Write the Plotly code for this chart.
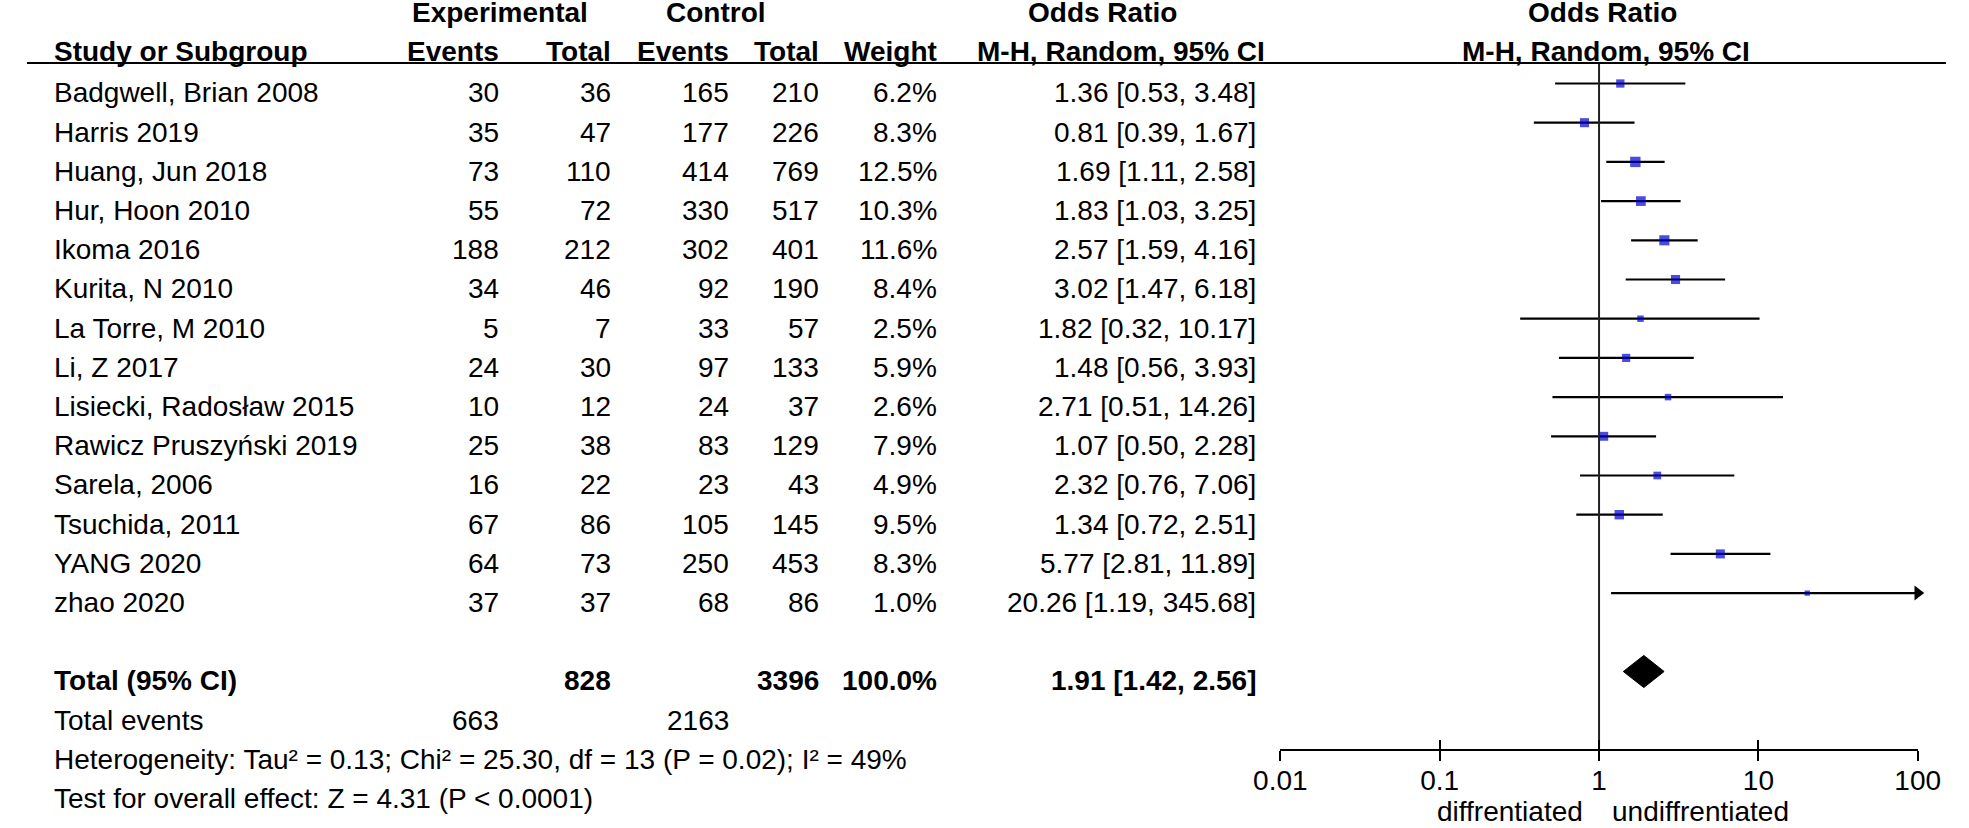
import numpy as np
import plotly.graph_objects as go

# Study rows
studies = ["Badgwell, Brian 2008", "Harris 2019", "Huang, Jun 2018", "Hur, Hoon 2010",
           "Ikoma 2016", "Kurita, N 2010", "La Torre, M 2010", "Li, Z 2017",
           "Lisiecki, Radosław 2015", "Rawicz Pruszyński 2019", "Sarela, 2006",
           "Tsuchida, 2011", "YANG 2020", "zhao 2020"]
exp_events = [30, 35, 73, 55, 188, 34, 5, 24, 10, 25, 16, 67, 64, 37]
exp_total = [36, 47, 110, 72, 212, 46, 7, 30, 12, 38, 22, 86, 73, 37]
ctl_events = [165, 177, 414, 330, 302, 92, 33, 97, 24, 83, 23, 105, 250, 68]
ctl_total = [210, 226, 769, 517, 401, 190, 57, 133, 37, 129, 43, 145, 453, 86]
weights = [6.2, 8.3, 12.5, 10.3, 11.6, 8.4, 2.5, 5.9, 2.6, 7.9, 4.9, 9.5, 8.3, 1.0]
odds_ratio = [1.36, 0.81, 1.69, 1.83, 2.57, 3.02, 1.82, 1.48, 2.71, 1.07, 2.32, 1.34, 5.77, 20.26]
ci_low = [0.53, 0.39, 1.11, 1.03, 1.59, 1.47, 0.32, 0.56, 0.51, 0.50, 0.76, 0.72, 2.81, 1.19]
ci_high = [3.48, 1.67, 2.58, 3.25, 4.16, 6.18, 10.17, 3.93, 14.26, 2.28, 7.06, 2.51, 11.89, 345.68]

# Pooled result
total_exp = 828
total_ctl = 3396
total_weight = 100.0
total_or = 1.91
total_low = 1.42
total_high = 2.56
total_events_exp = 663
total_events_ctl = 2163
heterogeneity = "Heterogeneity: Tau² = 0.13; Chi² = 25.30, df = 13 (P = 0.02); I² = 49%"
overall_effect = "Test for overall effect: Z = 4.31 (P < 0.0001)"

tick_vals = [0.01, 0.1, 1, 10, 100]
tick_text = ["0.01", "0.1", "1", "10", "100"]
left_label = "diffrentiated"
right_label = "undiffrentiated"

# ---- layout helpers (pixels of the 1969x828 page) ----
W, H = 1969, 828
ROW0, ROWH = 83.5, 39.2          # y pixel of first plotted row, row pitch
TXT = 0.24                        # text sits a bit below the plotted line
FONT = "Liberation Sans, Arial, sans-serif"
FS = 28


def px(x):
    return x / W


n = len(studies)
rows = list(range(n))
total_row = n + 1
events_row = n + 2
het_row = n + 3
test_row = n + 4
head_row = -1.05
group_row = -2.05
line_row = -0.523
axis_row = het_row

dom = [px(1286), px(1940)]
xr = [np.log10(tick_vals[0]), np.log10(tick_vals[-1])]
xmax = tick_vals[-1]

fig = go.Figure()

# confidence intervals (clipped at the axis end)
cx, cy = [], []
for i in rows:
    cx += [ci_low[i], min(ci_high[i], xmax), None]
    cy += [i, i, None]
fig.add_trace(go.Scatter(x=cx, y=cy, mode="lines", line=dict(color="black", width=2.2),
                         hoverinfo="skip"))

# arrows for intervals beyond the axis
arr = [i for i in rows if ci_high[i] > xmax]
fig.add_trace(go.Scatter(x=[xmax] * len(arr), y=arr, mode="markers", cliponaxis=False,
                         marker=dict(symbol="triangle-right", size=13, color="black"),
                         hoverinfo="skip"))

# point estimates, square area ~ weight
fig.add_trace(go.Scatter(x=odds_ratio, y=rows, mode="markers",
                         marker=dict(symbol="square", color="#0000cc",
                                     size=[3.3 + 2 * np.sqrt(w) for w in weights],
                                     line=dict(width=0)),
                         hoverinfo="skip"))

# pooled diamond
dh = 0.41
fig.add_trace(go.Scatter(x=[total_low, total_or, total_high, total_or, total_low],
                         y=[total_row, total_row - dh, total_row, total_row + dh, total_row],
                         mode="lines", fill="toself", fillcolor="black",
                         line=dict(color="black", width=1), hoverinfo="skip"))

# line of no effect
fig.add_trace(go.Scatter(x=[1, 1], y=[line_row, axis_row], mode="lines", xaxis="x2",
                         line=dict(color="#222", width=2), hoverinfo="skip"))

ann = []


def text(x, y, s, anchor="left", bold=False, size=FS):
    ann.append(dict(x=x, y=y, xref="paper", yref="y", text=f"<b>{s}</b>" if bold else s,
                    showarrow=False, xanchor=anchor, yanchor="middle",
                    font=dict(family=FONT, size=size, color="black")))


# column right edges
c_study, c_ee, c_et, c_ce, c_ct, c_w, c_or = px(26), px(486), px(601), px(722), px(815), px(936), px(1263)

# headers
text(px(485), group_row + TXT, "Experimental", "center", True)
text(px(707), group_row + TXT, "Control", "center", True)
text(px(1104), group_row + TXT, "Odds Ratio", "center", True)
text(px(1617), group_row + TXT, "Odds Ratio", "center", True)
text(c_study, head_row + TXT, "Study or Subgroup", "left", True)
text(c_ee, head_row + TXT, "Events", "right", True)
text(c_et, head_row + TXT, "Total", "right", True)
text(c_ce, head_row + TXT, "Events", "right", True)
text(c_ct, head_row + TXT, "Total", "right", True)
text(c_w, head_row + TXT, "Weight", "right", True)
text(px(1272), head_row + TXT, "M-H, Random, 95% CI", "right", True)
text(px(1620), head_row + TXT, "M-H, Random, 95% CI", "center", True)

for i in rows:
    y = i + TXT
    text(c_study, y, studies[i])
    text(c_ee, y, str(exp_events[i]), "right")
    text(c_et, y, str(exp_total[i]), "right")
    text(c_ce, y, str(ctl_events[i]), "right")
    text(c_ct, y, str(ctl_total[i]), "right")
    text(c_w, y, f"{weights[i]:.1f}%", "right")
    text(c_or, y, f"{odds_ratio[i]:.2f} [{ci_low[i]:.2f}, {ci_high[i]:.2f}]", "right")

y = total_row + TXT
text(c_study, y, "Total (95% CI)", "left", True)
text(c_et, y, str(total_exp), "right", True)
text(c_ct, y, str(total_ctl), "right", True)
text(c_w, y, f"{total_weight:.1f}%", "right", True)
text(c_or, y, f"{total_or:.2f} [{total_low:.2f}, {total_high:.2f}]", "right", True)

y = events_row + TXT
text(c_study, y, "Total events")
text(c_ee, y, str(total_events_exp), "right")
text(c_ce, y, str(total_events_ctl), "right")
text(c_study, het_row + TXT, heterogeneity)
text(c_study, test_row + TXT, overall_effect)

# labels either side of OR = 1
one = dom[0] + (dom[1] - dom[0]) * (0 - xr[0]) / (xr[1] - xr[0])
lab_row = 18.58
text(one - px(14), lab_row, left_label, "right")
text(one + px(11), lab_row, right_label, "left")

yrange = [(H - ROW0) / ROWH, -ROW0 / ROWH]
axis_pos = 1 - (ROW0 + axis_row * ROWH) / H

axis_common = dict(type="log", range=xr, domain=dom, anchor="free", position=axis_pos,
                   tickvals=tick_vals, showgrid=False, zeroline=False,
                   tickwidth=2, tickcolor="black", ticklen=10)

fig.update_layout(
    width=W, height=H,
    margin=dict(l=0, r=0, t=0, b=0),
    paper_bgcolor="white", plot_bgcolor="white",
    showlegend=False,
    font=dict(family=FONT, size=FS, color="black"),
    xaxis=dict(**axis_common, ticks="outside", ticktext=tick_text, ticklabelstandoff=-5,
               showline=True, linecolor="black", linewidth=2,
               tickfont=dict(family=FONT, size=FS, color="black")),
    xaxis2=dict(**axis_common, ticks="inside", overlaying="x", matches="x",
                showticklabels=False, showline=False),
    yaxis=dict(range=yrange, domain=[0, 1], visible=False, fixedrange=True),
    shapes=[dict(type="line", xref="paper", yref="y", x0=0, x1=1, y0=line_row, y1=line_row,
                 line=dict(color="black", width=2))],
    annotations=ann,
)

# drop the browser's default page margin so the figure sits at the window corner
fig.write_html("out.html", config={"displayModeBar": False},
               post_script="document.body.style.margin='0px';")
